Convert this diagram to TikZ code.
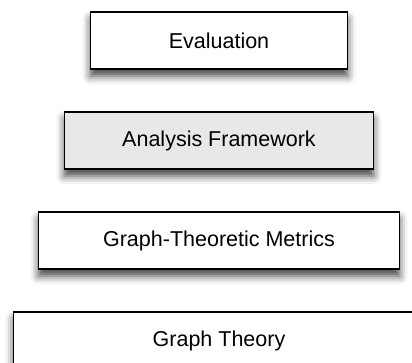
\documentclass[tikz,border=0pt]{standalone}
\usepackage{fontspec}
\setmainfont{Liberation Sans}
\usetikzlibrary{positioning,shadows.blur}

\begin{document}
\begin{tikzpicture}[node distance=100pt,
  layer/.style={draw=black, line width=1.6pt, fill=white, minimum height=57pt,
    font=\fontsize{21.5}{26}\selectfont,
    blur shadow={shadow xshift=0pt, shadow yshift=-7pt, shadow blur radius=8pt, shadow opacity=75}}]
\useasboundingbox (0,0) rectangle (412pt,-362pt);
\clip (0,0) rectangle (412pt,-362pt);
\node[layer, minimum width=257pt] (eval) at (219pt,-40.5pt) {Evaluation};
\node[layer, minimum width=309pt, fill=black!9] (frame) [below of=eval] {Analysis Framework};
\node[layer, minimum width=361pt] (metrics) [below of=frame] {Graph-Theoretic Metrics};
\node[layer, minimum width=411pt] (theory) [below of=metrics] {Graph Theory};
\end{tikzpicture}
\end{document}
